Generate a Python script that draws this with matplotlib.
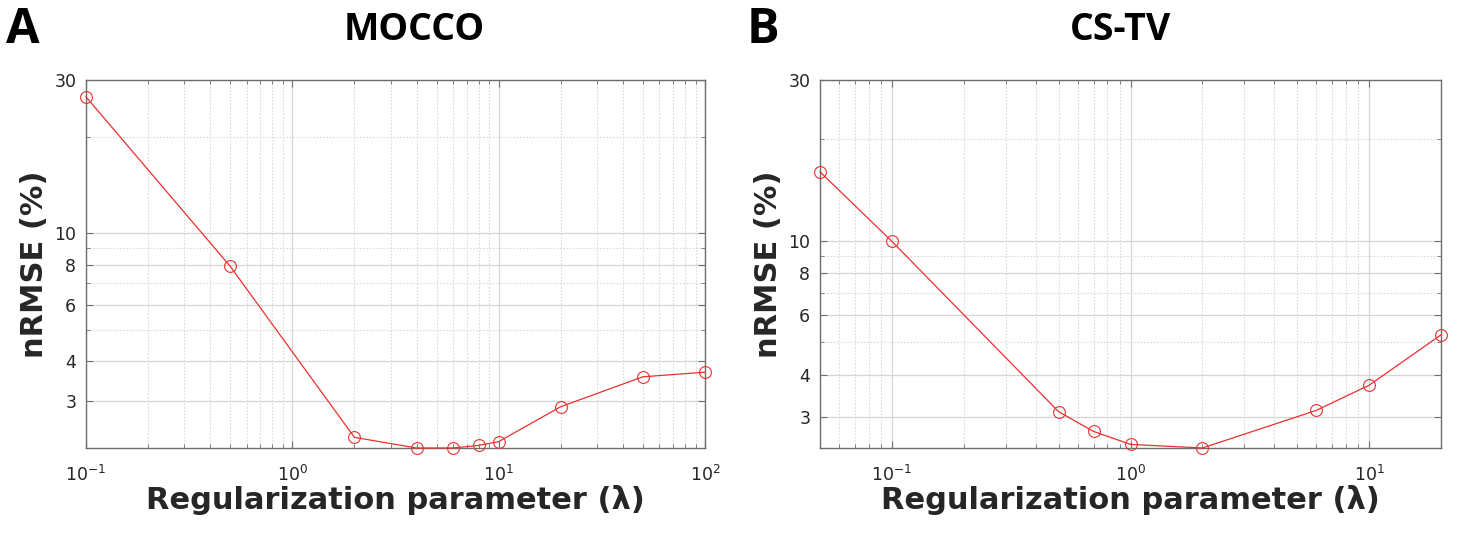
import numpy as np
import matplotlib
matplotlib.use("Agg")
import matplotlib.pyplot as plt
from matplotlib.ticker import LogLocator, FixedLocator, NullFormatter, ScalarFormatter

plt.rcParams["font.family"] = ["DejaVu Sans"]

# ---------------------------
# Data
# ---------------------------
mocco_lambda = [0.1, 0.5, 2, 4, 6, 8, 10, 20, 50, 100]
mocco_nrmse = [26.6, 7.9, 2.32, 2.15, 2.15, 2.19, 2.25, 2.89, 3.58, 3.70]

cstv_lambda = [0.05, 0.1, 0.5, 0.7, 1, 2, 6, 10, 20]
cstv_nrmse = [16.0, 9.95, 3.10, 2.71, 2.48, 2.42, 3.13, 3.72, 5.25]

y_ticks = [3, 4, 6, 8, 10, 30]
titles = ["MOCCO", "CS-TV"]
panel_labels = ["A", "B"]

TEXT = "#262626"
AXIS = "#6e6e6e"
W, H = 1462, 533

fig = plt.figure(figsize=(W / 100, H / 100), dpi=100)
ax_a = fig.add_axes([0.0588, 0.1595, 0.4234, 0.6904])
ax_b = fig.add_axes([0.5609, 0.1595, 0.4248, 0.6904])


def style_axis(ax, x, y, xlim, ylim):
    ax.plot(x, y, color="#e8312f", lw=0.9, marker="o", ms=8.5,
            mfc="none", mec="#e8312f", mew=0.8, clip_on=False, zorder=3)
    ax.set_xscale("log")
    ax.set_yscale("log")
    ax.set_xlim(*xlim)
    ax.set_ylim(*ylim)

    ax.yaxis.set_major_locator(FixedLocator(y_ticks))
    ax.yaxis.set_major_formatter(ScalarFormatter())
    ax.yaxis.set_minor_locator(LogLocator(base=10, subs=np.arange(2, 10)))
    ax.yaxis.set_minor_formatter(NullFormatter())
    ax.xaxis.set_minor_locator(LogLocator(base=10, subs=np.arange(2, 10)))
    ax.xaxis.set_minor_formatter(NullFormatter())

    ax.grid(True, which="major", color="#d6d6d6", lw=0.9, ls="-")
    ax.grid(True, which="minor", color="#dadada", lw=0.8, ls=(0, (1.5, 1.5)))
    ax.set_axisbelow(True)

    ax.tick_params(which="both", direction="in", top=True, right=True,
                   color=AXIS, labelsize=12.5, labelcolor=TEXT)
    ax.tick_params(which="major", length=5, width=0.8, pad=7)
    ax.tick_params(axis="x", which="major", pad=12)
    ax.tick_params(which="minor", length=3, width=0.6)
    for s in ax.spines.values():
        s.set_color(AXIS)
        s.set_linewidth(1.0)

    ax.set_xlabel("Regularization parameter (λ)", fontsize=22,
                  fontweight="bold", color=TEXT, labelpad=0)
    ax.set_ylabel("nRMSE (%)", fontsize=22, fontweight="bold",
                  color=TEXT, labelpad=4)


style_axis(ax_a, mocco_lambda, mocco_nrmse, (0.1, 100), (2.15, 30))
style_axis(ax_b, cstv_lambda, cstv_nrmse, (0.05, 20), (2.42, 30))

# titles, placed a little right of centre as in the original
for t, xc in zip(titles, [414, 1120]):
    fig.text(xc / W, 1 - 40 / H, t, fontsize=27, fontweight="bold",
             family="Open Sans", color="black", ha="center", va="baseline")

for lab, xl in zip(panel_labels, [6, 747]):
    fig.text(xl / W, 1 - 43 / H, lab, fontsize=35, fontweight="bold",
             family="Open Sans", color="black", ha="left", va="baseline")

fig.savefig("out.png", dpi=100)
